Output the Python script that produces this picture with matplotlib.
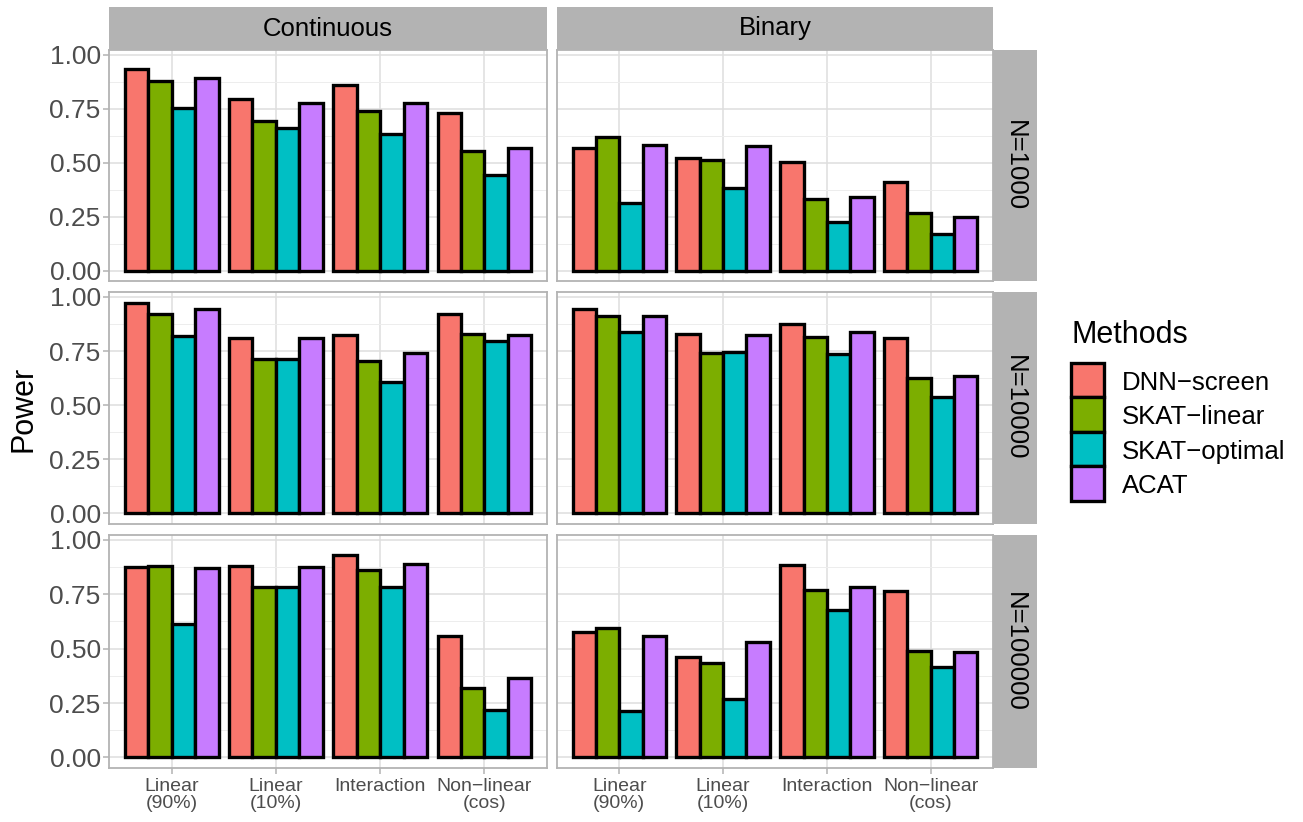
import matplotlib
matplotlib.use("Agg")
import matplotlib.pyplot as plt
import numpy as np
from matplotlib.patches import Rectangle

plt.rcParams['font.family'] = ['Liberation Sans', 'DejaVu Sans']

# ---- data -------------------------------------------------------------
categories = ["Linear\n(90%)", "Linear\n(10%)", "Interaction", "Non\u2212linear\n(cos)"]
methods = ["DNN\u2212screen", "SKAT\u2212linear", "SKAT\u2212optimal", "ACAT"]
colors = ["#F8766D", "#7CAE00", "#00BFC4", "#C77CFF"]
outcome_types = ["Continuous", "Binary"]
sample_sizes = ["N=1000", "N=10000", "N=100000"]

# rows: DNN-screen, SKAT-linear, SKAT-optimal, ACAT ; cols: categories
power_cont_1000 = [[0.935, 0.796, 0.861, 0.730],
                   [0.881, 0.692, 0.739, 0.555],
                   [0.753, 0.660, 0.632, 0.444],
                   [0.892, 0.776, 0.779, 0.566]]
power_bin_1000 = [[0.569, 0.522, 0.502, 0.410],
                  [0.617, 0.513, 0.331, 0.269],
                  [0.314, 0.382, 0.223, 0.167],
                  [0.580, 0.577, 0.343, 0.249]]
power_cont_10000 = [[0.974, 0.808, 0.823, 0.923],
                    [0.920, 0.712, 0.705, 0.828],
                    [0.820, 0.714, 0.605, 0.797],
                    [0.942, 0.811, 0.740, 0.825]]
power_bin_10000 = [[0.943, 0.831, 0.877, 0.808],
                   [0.912, 0.740, 0.815, 0.626],
                   [0.838, 0.746, 0.737, 0.540],
                   [0.912, 0.823, 0.838, 0.635]]
power_cont_100000 = [[0.877, 0.882, 0.931, 0.558],
                     [0.880, 0.782, 0.862, 0.318],
                     [0.615, 0.783, 0.785, 0.220],
                     [0.869, 0.877, 0.888, 0.363]]
power_bin_100000 = [[0.577, 0.462, 0.885, 0.766],
                    [0.595, 0.435, 0.769, 0.488],
                    [0.212, 0.268, 0.677, 0.415],
                    [0.557, 0.531, 0.785, 0.483]]

grid_data = [[power_cont_1000, power_bin_1000],
             [power_cont_10000, power_bin_10000],
             [power_cont_100000, power_bin_100000]]

# ---- layout (pixels) ---------------------------------------------------
W, H = 1303, 822
fig = plt.figure(figsize=(W / 100, H / 100), dpi=100)

def frac_box(x0, y0, x1, y1):
    return [x0 / W, 1 - y1 / H, (x1 - x0) / W, (y1 - y0) / H]

col_x = [(109, 547), (557, 993)]
row_y = [(50, 281), (292, 524), (535, 768)]
strip_top = (7, 50)
strip_right = (993, 1037)

grid_major = "#DEDEDE"
grid_minor = "#EDEDED"
border_col = "#B3B3B3"
strip_bg = "#B3B3B3"
tick_txt = "#4D4D4D"

all_vals = np.array(grid_data).ravel()
ymax = all_vals.max()
pad = 0.05 * ymax
ylim = (-pad, ymax + pad)

nmeth = len(methods)
ncat = len(categories)
xpos = np.arange(1, ncat + 1)
bw = 0.9 / nmeth

for r, (y0, y1) in enumerate(row_y):
    for c, (x0, x1) in enumerate(col_x):
        ax = fig.add_axes(frac_box(x0, y0, x1, y1))
        vals = grid_data[r][c]
        for m in range(nmeth):
            offs = xpos - 0.45 + bw * (m + 0.5)
            ax.bar(offs, vals[m], width=bw, color=colors[m],
                   edgecolor="black", linewidth=2.4, zorder=3)
        ax.set_xlim(0.4, ncat + 0.6)
        ax.set_ylim(*ylim)
        ax.set_yticks([0, 0.25, 0.5, 0.75, 1.0])
        ax.set_yticks([0.125, 0.375, 0.625, 0.875], minor=True)
        ax.set_xticks(xpos)
        ax.grid(True, which="major", color=grid_major, linewidth=1.1, zorder=0)
        ax.grid(True, which="minor", axis="y", color=grid_minor, linewidth=0.7, zorder=0)
        ax.set_axisbelow(True)
        for sp in ax.spines.values():
            sp.set_color(border_col)
            sp.set_linewidth(1.3)
        ax.tick_params(which="minor", length=0)
        ax.tick_params(which="major", color=border_col, length=4, width=1.1,
                       labelcolor=tick_txt)
        if c == 0:
            ax.set_yticklabels(["0.00", "0.25", "0.50", "0.75", "1.00"], fontsize=19)
            ax.tick_params(axis="y", pad=2)
        else:
            ax.tick_params(axis="y", length=0, labelleft=False)
        if r == len(row_y) - 1:
            ax.set_xticklabels(categories, fontsize=14, linespacing=1.05,
                               ha="center", multialignment="center")
            ax.tick_params(axis="x", pad=3)
        else:
            ax.tick_params(axis="x", length=0, labelbottom=False)

# top strips
for c, (x0, x1) in enumerate(col_x):
    sax = fig.add_axes(frac_box(x0, strip_top[0], x1, strip_top[1]))
    sax.set_facecolor(strip_bg)
    sax.set_xticks([]); sax.set_yticks([])
    for sp in sax.spines.values():
        sp.set_visible(False)
    sax.text(0.5, 0.5, outcome_types[c], ha="center", va="center",
             fontsize=18.5, color="black", transform=sax.transAxes)

# right strips
for r, (y0, y1) in enumerate(row_y):
    sax = fig.add_axes(frac_box(strip_right[0], y0, strip_right[1], y1))
    sax.set_facecolor(strip_bg)
    sax.set_xticks([]); sax.set_yticks([])
    for sp in sax.spines.values():
        sp.set_visible(False)
    sax.text(0.5, 0.5, sample_sizes[r], ha="center", va="center", rotation=270,
             fontsize=18.5, color="black", transform=sax.transAxes)

# y axis title
fig.text(24 / W, 1 - 409 / H, "Power", rotation=90, ha="center", va="center",
         fontsize=22, color="black")

# legend
key_x0, key_x1 = 1071, 1104
key_y0, key_h = 363, 34.5
fig.text(key_x0 / W, 1 - 343 / H, "Methods", ha="left", va="baseline",
         fontsize=22, color="black")
for m in range(nmeth):
    ky = key_y0 + m * key_h
    fig.patches.append(Rectangle((key_x0 / W, 1 - (ky + key_h) / H),
                                 (key_x1 - key_x0) / W, key_h / H,
                                 transform=fig.transFigure, facecolor=colors[m],
                                 edgecolor="black", linewidth=2.4))
    fig.text(1122 / W, 1 - (ky + key_h / 2) / H, methods[m], ha="left",
             va="center_baseline", fontsize=18.5, color="black")

fig.savefig("out.png", dpi=100, facecolor="white")
